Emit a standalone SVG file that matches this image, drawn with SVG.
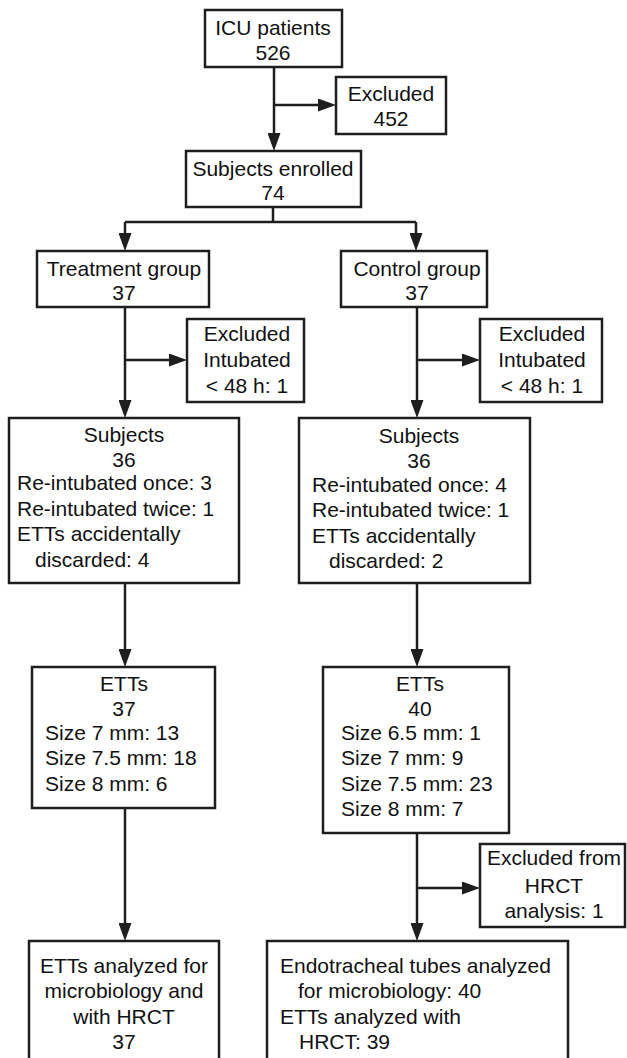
<svg xmlns="http://www.w3.org/2000/svg" width="627" height="1058" viewBox="0 0 627 1058">
<defs>
<style>
.box{fill:#fff;stroke:#1e1e1e;stroke-width:2.5}
.t{font-family:"Liberation Sans",Arial,sans-serif;font-size:21px;fill:#111}
.c{text-anchor:middle}
.ln{fill:none;stroke:#1e1e1e;stroke-width:2.5}
</style>
<marker id="ah" markerUnits="userSpaceOnUse" markerWidth="20" markerHeight="13" refX="10" refY="6.5" orient="auto">
<path d="M0,0 L18,6.5 L0,13 z" fill="#1e1e1e"/>
</marker>
</defs>
<rect width="627" height="1058" fill="#fff"/>
<g id="connectors">
<path class="ln" d="M274,67 V143" marker-end="url(#ah)"/>
<path class="ln" d="M274,105 H328" marker-end="url(#ah)"/>
<path class="ln" d="M273,207 V222 M125,222 H416"/>
<path class="ln" d="M125,222 V243" marker-end="url(#ah)"/>
<path class="ln" d="M416,222 V243" marker-end="url(#ah)"/>
<path class="ln" d="M125,307 V410" marker-end="url(#ah)"/>
<path class="ln" d="M125,360 H179" marker-end="url(#ah)"/>
<path class="ln" d="M417,307 V410" marker-end="url(#ah)"/>
<path class="ln" d="M417,360 H472" marker-end="url(#ah)"/>
<path class="ln" d="M125,583 V659" marker-end="url(#ah)"/>
<path class="ln" d="M417,583 V659" marker-end="url(#ah)"/>
<path class="ln" d="M125,808 V933" marker-end="url(#ah)"/>
<path class="ln" d="M417,833 V933" marker-end="url(#ah)"/>
<path class="ln" d="M417,888 H472" marker-end="url(#ah)"/>
</g>
<g id="icu">
<rect class="box" x="205" y="10" width="137" height="57"/>
<text class="t c" x="273" y="35">ICU patients</text>
<text class="t c" x="273" y="60">526</text>
</g>
<g id="excluded1">
<rect class="box" x="336" y="77" width="110" height="57"/>
<text class="t c" x="391" y="101">Excluded</text>
<text class="t c" x="391" y="126">452</text>
</g>
<g id="enrolled">
<rect class="box" x="186" y="151" width="175" height="56"/>
<text class="t c" x="273" y="176">Subjects enrolled</text>
<text class="t c" x="273" y="200">74</text>
</g>
<g id="treatment">
<rect class="box" x="37" y="251" width="172" height="56"/>
<text class="t c" x="124" y="276">Treatment group</text>
<text class="t c" x="124" y="300">37</text>
</g>
<g id="control">
<rect class="box" x="341" y="251" width="146" height="56"/>
<text class="t c" x="417" y="276">Control group</text>
<text class="t c" x="417" y="300">37</text>
</g>
<g id="excluded-t">
<rect class="box" x="187" y="319" width="117" height="83"/>
<text class="t c" x="247" y="341">Excluded</text>
<text class="t c" x="247" y="367">Intubated</text>
<text class="t c" x="247" y="393">&lt; 48 h: 1</text>
</g>
<g id="excluded-c">
<rect class="box" x="480" y="319" width="122" height="83"/>
<text class="t c" x="542" y="341">Excluded</text>
<text class="t c" x="542" y="367">Intubated</text>
<text class="t c" x="542" y="393">&lt; 48 h: 1</text>
</g>
<g id="subjects-t">
<rect class="box" x="9" y="418" width="230" height="165"/>
<text class="t c" x="124" y="442">Subjects</text>
<text class="t c" x="124" y="467">36</text>
<text class="t" x="17" y="490">Re-intubated once: 3</text>
<text class="t" x="17" y="516">Re-intubated twice: 1</text>
<text class="t" x="17" y="541">ETTs accidentally</text>
<text class="t" x="35" y="567">discarded: 4</text>
</g>
<g id="subjects-c">
<rect class="box" x="299" y="418" width="231" height="165"/>
<text class="t c" x="419" y="443">Subjects</text>
<text class="t c" x="419" y="468">36</text>
<text class="t" x="312" y="492">Re-intubated once: 4</text>
<text class="t" x="312" y="517">Re-intubated twice: 1</text>
<text class="t" x="312" y="543">ETTs accidentally</text>
<text class="t" x="329" y="568">discarded: 2</text>
</g>
<g id="etts-t">
<rect class="box" x="32" y="667" width="183" height="141"/>
<text class="t c" x="124" y="691">ETTs</text>
<text class="t c" x="124" y="716">37</text>
<text class="t" x="45" y="740">Size 7 mm: 13</text>
<text class="t" x="45" y="765">Size 7.5 mm: 18</text>
<text class="t" x="45" y="791">Size 8 mm: 6</text>
</g>
<g id="etts-c">
<rect class="box" x="323" y="667" width="186" height="166"/>
<text class="t c" x="420" y="691">ETTs</text>
<text class="t c" x="420" y="716">40</text>
<text class="t" x="341" y="740">Size 6.5 mm: 1</text>
<text class="t" x="341" y="765">Size 7 mm: 9</text>
<text class="t" x="341" y="791">Size 7.5 mm: 23</text>
<text class="t" x="341" y="816">Size 8 mm: 7</text>
</g>
<g id="excluded-hrct">
<rect class="box" x="480" y="844" width="145" height="83"/>
<text class="t c" x="554" y="865">Excluded from</text>
<text class="t c" x="554" y="893">HRCT</text>
<text class="t c" x="554" y="918">analysis: 1</text>
</g>
<g id="final-t">
<rect class="box" x="29" y="941" width="190" height="130"/>
<text class="t c" x="124" y="973">ETTs analyzed for</text>
<text class="t c" x="124" y="998">microbiology and</text>
<text class="t c" x="124" y="1024">with HRCT</text>
<text class="t c" x="124" y="1049">37</text>
</g>
<g id="final-c">
<rect class="box" x="267" y="941" width="301" height="130"/>
<text class="t" x="280" y="973">Endotracheal tubes analyzed</text>
<text class="t" x="298" y="998">for microbiology: 40</text>
<text class="t" x="280" y="1024">ETTs analyzed with</text>
<text class="t" x="299" y="1049">HRCT: 39</text>
</g>
</svg>
